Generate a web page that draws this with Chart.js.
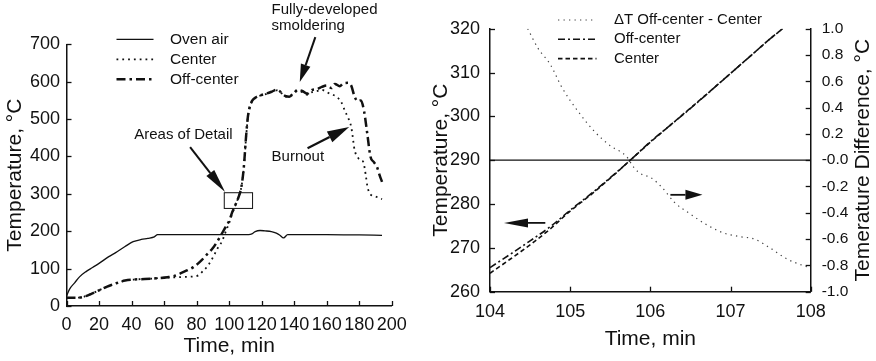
<!DOCTYPE html>
<html>
<head>
<meta charset="utf-8">
<script src="https://cdn.jsdelivr.net/npm/chart.js@4.4.1/dist/chart.umd.min.js"></script>
<style>
  body { margin:0; background:#fff; }
  #wrap { display:flex; width:876px; height:361px; }
  canvas { display:block; }
</style>
</head>
<body>
<div id="wrap">
  <canvas id="left" width="420" height="361"></canvas>
  <canvas id="right" width="456" height="361"></canvas>
</div>
<script>
// left panel: whole test, time in min, temperature in C
const timeOven = [0,2,5,8,12,16,20,26,30,36,41,46,50,54,56,60,80,100,112,114,116,119,122,126,129,131,133.5,136,140,160,180,194];
const tempOven = [27,46,62,78,92,103,114,132,142,159,172,178,181,185,191,191,191,191,191,193,199,202,201,199,195,190,182,191,191,191,190,189];

const timeCenter = [0,5,10,15,20,25,30,36,42,48,55,62,68,74,78,81,84,87,90,93,95.5,98,100,102,104,106,107.5,109,110.4,111.5,112.5,114,116,118,122,126,129,131,133,135,137,140,142,145,148,151,154,157,160,163,166,169,171,173,175,176,177,179,181,182.5,184,185,186,187,190,194];
const tempCenter = [22,22,24,32,42,52,60,68,71,72,74,76,77,78,79,82,94,108,130,155,172,200,222,248,271,294,318,368,450,503,528,546,556,561,566,572,577,574,566,560,562,570,576,572,565,572,575,578,572,566,560,545,524,505,480,452,420,398,390,385,350,320,305,298,293,286];

const timeOff = [0,5,10,15,20,25,30,36,42,48,55,62,66,70,74,78,82,86,90,94,97,100,102,104,106,107.5,109,110.4,111.5,112.5,114,116,118,122,126,129,131,133,135,137,140,142,145,148,151,154,157,160,163,165,168,170,173,175,177,179,181,183,184.9,186.9,189,190.9,192.5,194];
const tempOff = [22,22,24,32,42,52,60,68,71,72,74,77,80,87,95,104,118,136,155,182,205,228,252,272,294,318,370,453,505,530,548,557,562,567,573,578,575,566,561,560,570,578,575,568,578,580,586,590,583,594,588,595,597,590,562,548,550,520,462,399,385,372,350,332];

// right panel: area of detail, 104-108 min
const timeDetail = [104,104.25,104.5,104.75,105,105.25,105.5,105.75,106,106.25,106.5,106.75,107,107.25,107.5,107.65];
const detailOff = [265.5,268.5,271.6,274.8,278.6,282.2,286.0,290.0,294.2,298.0,301.8,305.8,309.8,313.8,317.8,320];
const detailCenter = [264.2,267.4,270.7,274.3,278.4,282.0,285.9,290.0,294.1,298.0,301.9,305.8,309.8,313.8,317.8,320];

const timeDiff = [104.47,104.6,104.75,104.9,105.1,105.3,105.5,105.7,105.8,105.9,106.0,106.15,106.3,106.5,106.7,106.9,107.1,107.3,107.5,107.7,107.9,108];
const tempDiff = [1.0,0.85,0.73,0.55,0.37,0.22,0.11,0.03,-0.06,-0.11,-0.13,-0.21,-0.32,-0.41,-0.49,-0.55,-0.58,-0.60,-0.67,-0.75,-0.80,-0.82];

const FONT = '"Liberation Sans", Arial, Helvetica, sans-serif';
Chart.defaults.font.family = FONT;
Chart.defaults.color = '#111';
const INK = '#111';

function pts(xs, ys) { return xs.map((x, i) => ({x: x, y: ys[i]})); }

function arrow(ctx, x1, y1, x2, y2, head, half, lw) {
  const a = Math.atan2(y2 - y1, x2 - x1);
  const bx = x2 - head * Math.cos(a), by = y2 - head * Math.sin(a);
  ctx.lineWidth = lw;
  ctx.beginPath(); ctx.moveTo(x1, y1); ctx.lineTo(bx, by); ctx.stroke();
  ctx.beginPath(); ctx.moveTo(x2, y2);
  ctx.lineTo(bx + half * Math.sin(a), by - half * Math.cos(a));
  ctx.lineTo(bx - half * Math.sin(a), by + half * Math.cos(a));
  ctx.closePath(); ctx.fill();
}

// legend with line samples, drawn from the dataset styles
function legend(ctx, chart, x0, y0, gap, len, textDx, size) {
  chart.data.datasets.forEach((ds, i) => {
    if (ds.noLegend) return;
    const y = y0 + i * gap;
    ctx.save();
    ctx.strokeStyle = ds.borderColor;
    ctx.lineWidth = ds.borderWidth;
    ctx.setLineDash(ds.borderDash || []);
    ctx.beginPath(); ctx.moveTo(x0, y); ctx.lineTo(x0 + len, y); ctx.stroke();
    ctx.restore();
    ctx.font = size + 'px ' + FONT;
    ctx.textBaseline = 'middle';
    ctx.textAlign = 'left';
    ctx.fillText(ds.label, x0 + textDx, y);
  });
}

// tick marks pointing into the plot, at the ticks the scales made
const inTicks = {
  id: 'inTicks',
  afterDraw(chart) {
    const ctx = chart.ctx, a = chart.chartArea;
    ctx.save();
    ctx.strokeStyle = INK;
    ctx.lineWidth = 1.3;
    Object.values(chart.scales).forEach(s => {
      s.ticks.forEach(t => {
        const p = Math.round(s.getPixelForValue(t.value)) + 0.5;
        ctx.beginPath();
        if (s.position === 'bottom') { ctx.moveTo(p, a.bottom); ctx.lineTo(p, a.bottom - 5); }
        else if (s.position === 'left') { ctx.moveTo(a.left, p); ctx.lineTo(a.left + 5, p); }
        else { ctx.moveTo(a.right, p); ctx.lineTo(a.right - 5, p); }
        ctx.stroke();
      });
    });
    ctx.restore();
  }
};

const leftNotes = {
  id: 'leftNotes',
  afterDraw(chart) {
    const {ctx, chartArea: a, scales: {x, y}} = chart;
    const px = v => x.getPixelForValue(v), py = v => y.getPixelForValue(v);
    ctx.save();
    ctx.fillStyle = INK; ctx.strokeStyle = INK;
    legend(ctx, chart, a.left + 50, a.top - 5, 20, 37, 53.5, 15.5);

    ctx.font = '15px ' + FONT;
    ctx.textBaseline = 'middle';
    ctx.textAlign = 'center';
    ctx.fillText('Areas of Detail', px(71.9), py(457));
    ctx.textAlign = 'left';
    ctx.fillText('Fully-developed', px(126.1), py(791));
    ctx.fillText('smoldering', px(126.1), py(749));
    ctx.fillText('Burnout', px(126.1), py(400));

    ctx.lineWidth = 1;
    ctx.strokeRect(px(97), py(303), px(114.4) - px(97), py(261) - py(303));

    arrow(ctx, px(76), py(425), px(97.5), py(305), 24, 5, 2);
    arrow(ctx, px(153), py(719), px(143.4), py(599), 18, 5, 2);
    arrow(ctx, px(148.2), py(422), px(173.8), py(479), 22, 6, 2.2);
    ctx.restore();
  }
};

const rightNotes = {
  id: 'rightNotes',
  afterDraw(chart) {
    const {ctx, chartArea: a, scales: {x, y}} = chart;
    const px = v => x.getPixelForValue(v), py = v => y.getPixelForValue(v);
    ctx.save();
    ctx.fillStyle = INK; ctx.strokeStyle = INK;
    legend(ctx, chart, a.left + 68, a.top - 8.7, 19.3, 38.5, 56, 15);

    arrow(ctx, px(104.69), py(275.7), px(104.175), py(275.7), 24, 4.5, 1.8);
    arrow(ctx, px(106.25), py(282.1), px(106.65), py(282.1), 17, 5, 1.8);

    // right axis title reads bottom to top
    ctx.translate(chart.width - 12.7, (a.top + a.bottom) / 2);
    ctx.rotate(-Math.PI / 2);
    ctx.font = '21px ' + FONT;
    ctx.textAlign = 'center';
    ctx.textBaseline = 'middle';
    ctx.fillText('Temerature Difference, \u00B0C', 0, 0);
    ctx.restore();
  }
};

function axis(extra) {
  return Object.assign({
    type: 'linear',
    grid: {drawOnChartArea: false, tickLength: -5, color: INK, tickColor: 'rgba(0,0,0,0)'},
    border: {color: INK, width: 1.5}
  }, extra);
}

new Chart(document.getElementById('left'), {
  type: 'line',
  data: {
    datasets: [
      {label: 'Oven air', data: pts(timeOven, tempOven), borderColor: INK, borderWidth: 1.3},
      {label: 'Center', data: pts(timeCenter, tempCenter), borderColor: INK, borderWidth: 1.8, borderDash: [1.8, 4]},
      {label: 'Off-center', data: pts(timeOff, tempOff), borderColor: INK, borderWidth: 2.5, borderDash: [9, 4, 2.5, 4]}
    ]
  },
  options: {
    responsive: false, animation: false, devicePixelRatio: 1,
    layout: {padding: {top: 44.3, right: 18.3, left: 0, bottom: 0}},
    elements: {point: {radius: 0}, line: {cubicInterpolationMode: 'monotone', fill: false}},
    plugins: {legend: {display: false}, tooltip: {enabled: false}},
    scales: {
      x: axis({min: 0, max: 200,
        ticks: {stepSize: 20, padding: 13.2, font: {size: 18}, maxRotation: 0},
        title: {display: true, text: 'Time, min', font: {size: 21}, padding: {top: 0, bottom: 1.7}},
        afterFit(s) { s.height = 55; }}),
      y: axis({min: 0, max: 700,
        ticks: {stepSize: 100, padding: 11.5, font: {size: 18}},
        title: {display: true, text: 'Temperature, \u00B0C', font: {size: 21}, padding: {top: 2.7, bottom: 0}},
        afterFit(s) { s.width = 66.5; }})
    }
  },
  plugins: [inTicks, leftNotes]
});

new Chart(document.getElementById('right'), {
  type: 'line',
  data: {
    datasets: [
      {label: '\u0394T Off-center - Center', data: pts(timeDiff, tempDiff), yAxisID: 'y2', borderColor: '#444', borderWidth: 1.2, borderDash: [1.3, 4.2]},
      {label: 'Off-center', data: pts(timeDetail, detailOff), borderColor: INK, borderWidth: 1.6, borderDash: [7, 3, 2, 3]},
      {label: 'Center', data: pts(timeDetail, detailCenter), borderColor: INK, borderWidth: 1.6, borderDash: [4.5, 3]},
      {label: 'zero', noLegend: true, data: pts([104, 108], [0, 0]), yAxisID: 'y2', borderColor: INK, borderWidth: 1.3}
    ]
  },
  options: {
    responsive: false, animation: false, devicePixelRatio: 1,
    layout: {padding: {top: 28.7, right: 0, left: 0, bottom: 0}},
    elements: {point: {radius: 0}, line: {cubicInterpolationMode: 'monotone', fill: false}},
    plugins: {legend: {display: false}, tooltip: {enabled: false}},
    scales: {
      x: axis({min: 104, max: 108,
        ticks: {stepSize: 1, padding: 15, font: {size: 18}, maxRotation: 0},
        title: {display: true, text: 'Time, min', font: {size: 21}, padding: {top: 0, bottom: 9.1}},
        afterFit(s) { s.height = 69.3; }}),
      y: axis({min: 260, max: 320, position: 'left',
        ticks: {stepSize: 10, padding: 15, font: {size: 18}},
        title: {display: true, text: 'Temperature, \u00B0C', font: {size: 21}, padding: {top: 9.1, bottom: 0}},
        afterFit(s) { s.width = 70; }}),
      y2: axis({min: -1, max: 1, position: 'right',
        ticks: {stepSize: 0.2, padding: 16, font: {size: 15.5},
          callback: v => Math.abs(v) < 1e-9 ? '-0.0' : v.toFixed(1)},
        afterFit(s) { s.width = 65.3; }})
    }
  },
  plugins: [inTicks, rightNotes]
});
</script>
</body>
</html>
